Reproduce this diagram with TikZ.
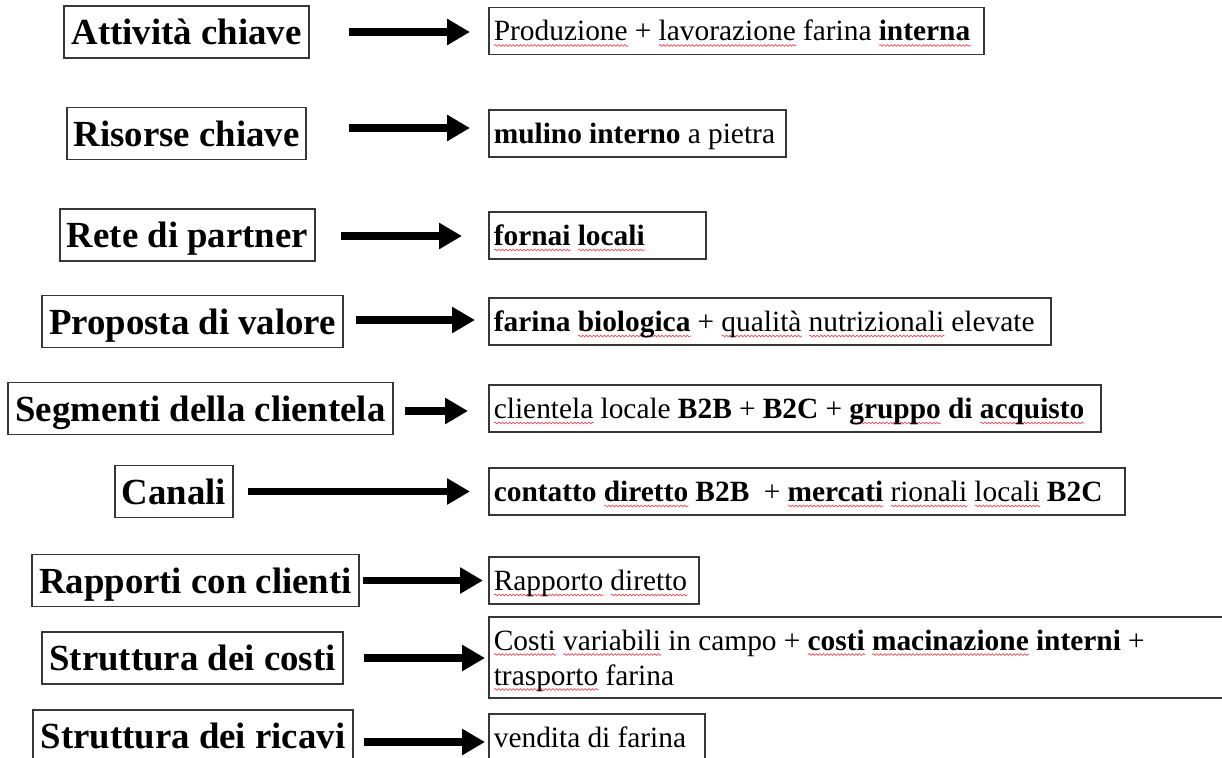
\documentclass[tikz,border=0pt]{standalone}
\usepackage{fontspec}
\setmainfont{Liberation Serif}
\usetikzlibrary{arrows.meta,decorations.pathmorphing}
\definecolor{wavered}{RGB}{232,80,90}
\definecolor{boxline}{RGB}{55,55,55}
% red wavy spell-check underline under a word
\newsavebox\wavebox
\newlength\wavelen
\newcommand\spellwave[1]{%
  \sbox\wavebox{#1}\setlength\wavelen{\wd\wavebox}%
  \makebox[0pt][l]{\raisebox{-4.5pt}{\tikz[x=1pt,y=1pt,baseline=0pt]
    \draw[wavered,line width=0.7pt,decorate,decoration={snake,amplitude=0.9pt,segment length=3.6pt}]
      (0,0) -- (\wavelen,0);}}%
  \usebox\wavebox}
\newcommand\narrowspaces{\spaceskip=7.2pt\relax}

\begin{document}
\begin{tikzpicture}[x=1pt,y=-1pt,
  keybox/.style={draw=boxline,line width=1.6pt,minimum height=52pt,inner xsep=4pt,inner ysep=0pt,
    text height=25pt,text depth=0pt,font=\fontsize{36.8}{44}\selectfont\bfseries},
  valbox/.style={draw=boxline,line width=1.6pt,anchor=west,inner xsep=5pt,inner ysep=13.5pt,
    text height=20pt,text depth=0pt,align=left,
    font=\fontsize{29.4}{35}\selectfont,execute at begin node=\narrowspaces},
  link/.style={line width=7.5pt,-{Triangle[length=23pt,width=25pt]}}]
\useasboundingbox (0,0) rectangle (1222,757);

% business model building blocks
\node[keybox,minimum width=245pt] (L1) at (186.5,32)  {Attività chiave};
\node[keybox,minimum width=239pt] (L2) at (186.5,133.5) {Risorse chiave};
\node[keybox,minimum width=255pt] (L3) at (187.5,235) {Rete di partner};
\node[keybox,minimum width=301pt] (L4) at (192.5,321.5) {Proposta di valore};
\node[keybox,minimum width=385pt] (L5) at (200.5,408.5) {Segmenti della clientela};
\node[keybox,minimum width=118pt] (L6) at (174,491.5) {Canali};
\node[keybox,minimum width=327pt] (L7) at (195.5,580.5) {Rapporti con clienti};
\node[keybox,minimum width=301pt] (L8) at (192.5,658) {Struttura dei costi};
\node[keybox,minimum width=320pt] (L9) at (193,736) {Struttura dei ricavi};

% contents of each block, one unbroken line per \mbox
\node[valbox,text width=485pt] (R1) at (488,31)
  {\mbox{\spellwave{Produzione} + \spellwave{lavorazione} farina \textbf{\spellwave{interna}}}};
\node[valbox,text width=287pt] (R2) at (488,133.5)
  {\mbox{\textbf{mulino interno} a pietra}};
\node[valbox,text width=207pt] (R3) at (488,235.5)
  {\mbox{\textbf{\spellwave{fornai} \spellwave{locali}}}};
\node[valbox,text width=552pt] (R4) at (488,321.5)
  {\mbox{\textbf{farina \spellwave{biologica}} + \spellwave{qualità} \spellwave{nutrizionali} elevate}};
\node[valbox,text width=602pt] (R5) at (488,408.5)
  {\mbox{\spellwave{clientela} locale \textbf{B2B} + \textbf{B2C} + \textbf{\spellwave{gruppo} di \spellwave{acquisto}}}};
\node[valbox,text width=626pt] (R6) at (488,491.5)
  {\mbox{\textbf{contatto \spellwave{diretto} B2B}\ \ + \textbf{\spellwave{mercati}} \spellwave{rionali} \spellwave{locali} \textbf{B2C}}};
\node[valbox,text width=200pt] (R7) at (488,580.5)
  {\mbox{\spellwave{Rapporto} \spellwave{diretto}}};
\node[valbox,text width=740pt,text depth=35pt,inner ysep=13pt] (R8) at (488,657.5)
  {\mbox{\spellwave{Costi} \spellwave{variabili} in campo + \textbf{\spellwave{costi} \spellwave{macinazione} interni} +}\\
   \mbox{\spellwave{trasporto} farina}};
\node[valbox,text width=206pt] (R9) at (488,737.5)
  {\mbox{vendita di farina}};

% arrows from each block to its content
\coordinate (s1) at ([xshift=39pt]L1.east);
\coordinate (s2) at ([xshift=42pt,yshift=5.5pt]L2.east);
\coordinate (s3) at ([xshift=25pt,yshift=-1pt]L3.east);
\coordinate (s4) at ([xshift=12pt,yshift=1.5pt]L4.east);
\coordinate (s5) at ([xshift=11pt,yshift=-2.5pt]L5.east);
\coordinate (s6) at ([xshift=14pt]L6.east);
\coordinate (s7) at ([xshift=3pt]L7.east);
\coordinate (s8) at ([xshift=20pt]L8.east);
\coordinate (s9) at ([xshift=10pt,yshift=-6pt]L9.east);

\draw[link,shorten >=18pt] (s1) -- (s1 -| R1.west);
\draw[link,shorten >=18pt] (s2) -- (s2 -| R2.west);
\draw[link,shorten >=26pt] (s3) -- (s3 -| R3.west);
\draw[link,shorten >=13pt] (s4) -- (s4 -| R4.west);
\draw[link,shorten >=20pt] (s5) -- (s5 -| R5.west);
\draw[link,shorten >=18pt] (s6) -- (s6 -| R6.west);
\draw[link,shorten >=5pt]  (s7) -- (s7 -| R7.west);
\draw[link,shorten >=3pt]  (s8) -- (s8 -| R8.west);
\draw[link,shorten >=3pt]  (s9) -- (s9 -| R9.west);
\end{tikzpicture}
\end{document}
